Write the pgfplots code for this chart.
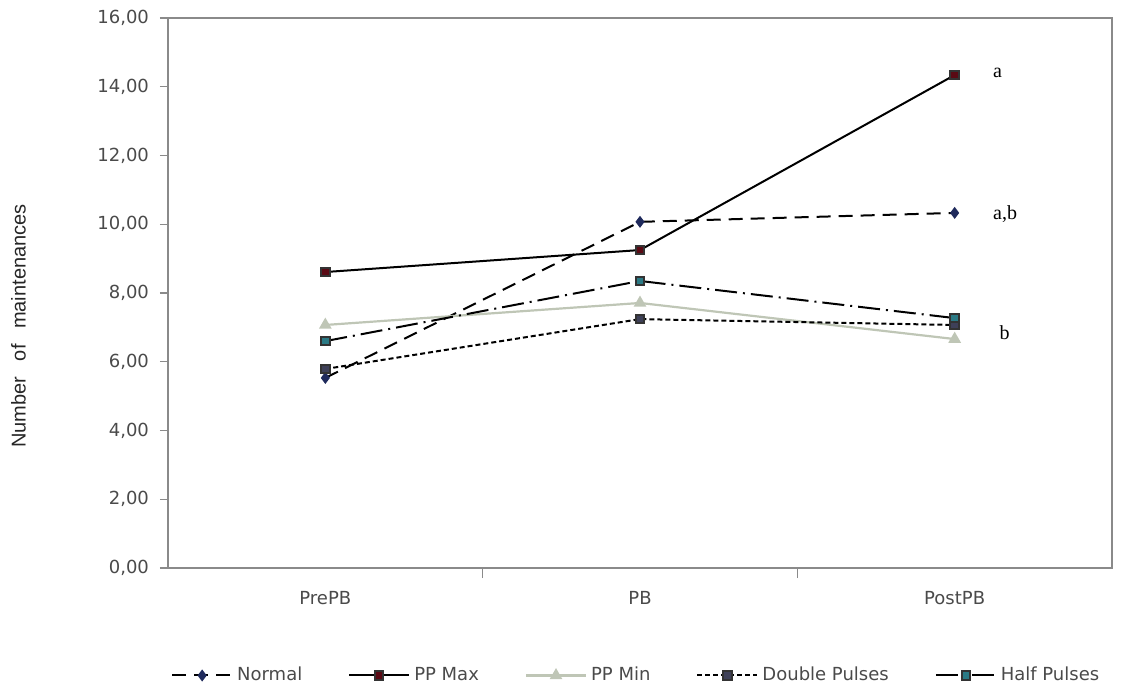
\documentclass[border=0pt]{standalone}
\usepackage{fontspec}
\setmainfont{DejaVu Sans}
\newfontfamily\seriffont{Liberation Serif}
\newfontfamily\arialfont{Liberation Sans}
\usepackage{pgfplots}
\pgfplotsset{compat=1.18}
\definecolor{cNormal}{HTML}{1F2A5C}
\definecolor{cMax}{HTML}{5A0A14}
\definecolor{cMin}{HTML}{BFC6B6}
\definecolor{cDouble}{HTML}{3E4058}
\definecolor{cHalf}{HTML}{2B7A85}
\definecolor{axgray}{HTML}{8A8A8A}
\definecolor{txtgray}{HTML}{4A4A4A}
\begin{document}
\begin{tikzpicture}
\begin{axis}[
  at={(0,0)}, anchor=south west,
  scale only axis,
  width=472pt, height=275pt,
  xmin=-0.5, xmax=2.5, ymin=0, ymax=16,
  xtick={0,1,2}, xticklabels={PrePB,PB,PostPB},
  minor xtick={0.5,1.5},
  ytick={0,2,...,16},
  axis line style={axgray, line width=0.6pt},
  tick align=outside,
  xtick pos=bottom,
  x tick style={draw=none},
  minor x tick style={draw=axgray, line width=0.6pt},
  minor tick length=5pt,
  y tick style={draw=axgray, line width=0.6pt},
  major tick length=4pt,
  ytick pos=left,
  /pgf/number format/fixed,
  /pgf/number format/fixed zerofill,
  /pgf/number format/precision=2,
  /pgf/number format/use comma,
  /pgf/number format/assume math mode=true,
  ticklabel style={font=\fontsize{9}{10}\selectfont, text=txtgray},
  xticklabel style={yshift=-4pt},
  yticklabel style={xshift=-2pt},
  ylabel={Number\hspace{5pt} of\hspace{5pt} maintenances},
  ylabel style={font=\arialfont\fontsize{10}{12}\selectfont, text=black!85, at={(axis description cs:-0.143,0.44)}, anchor=south},
  legend columns=5,
  legend image code/.code={
    \draw[mark repeat=2,mark phase=2,#1] plot coordinates {(0pt,0pt) (15pt,0pt) (30pt,0pt)};},
  legend style={at={(0.497,-0.165)}, anchor=north, draw=none, fill=none,
    font=\fontsize{9}{10}\selectfont, text=txtgray,
    /tikz/every even column/.append style={column sep=21pt}},
  legend cell align=left,
  clip=false,
]
\addplot[black, line width=1pt, dash pattern=on 7pt off 4pt,
  mark=diamond*, mark size=2.2pt, mark options={solid, fill=cNormal, draw=cNormal}]
  coordinates {(0,5.53) (1,10.07) (2,10.33)};
\addlegendentry{Normal}
\addplot[black, line width=1pt,
  mark=square*, mark size=2.1pt, mark options={solid, fill=cMax, draw=black!80}]
  coordinates {(0,8.61) (1,9.25) (2,14.34)};
\addlegendentry{PP Max}
\addplot[cMin, line width=1.1pt,
  mark=triangle*, mark size=2.6pt, mark options={solid, fill=cMin, draw=cMin}]
  coordinates {(0,7.07) (1,7.71) (2,6.66)};
\addlegendentry{PP Min}
\addplot[black, line width=1pt, dash pattern=on 2.5pt off 1.5pt,
  mark=square*, mark size=2.1pt, mark options={solid, fill=cDouble, draw=black!80}]
  coordinates {(0,5.79) (1,7.24) (2,7.07)};
\addlegendentry{Double Pulses}
\addplot[black, line width=1pt, dash pattern=on 11pt off 3pt on 1pt off 3pt,
  mark=square*, mark size=2.1pt, mark options={solid, fill=cHalf, draw=black!80}]
  coordinates {(0,6.60) (1,8.35) (2,7.27)};
\addlegendentry{Half Pulses}
\node[font=\seriffont\fontsize{10}{12}\selectfont, anchor=west] at (axis cs:2.1,14.4) {a};
\node[font=\seriffont\fontsize{10}{12}\selectfont, anchor=west] at (axis cs:2.1,10.3) {a,b};
\node[font=\seriffont\fontsize{10}{12}\selectfont, anchor=west] at (axis cs:2.12,6.85) {b};
\end{axis}
\path[use as bounding box] (-84pt,-60.5pt) rectangle (479.5pt,284pt);
\end{tikzpicture}
\end{document}
